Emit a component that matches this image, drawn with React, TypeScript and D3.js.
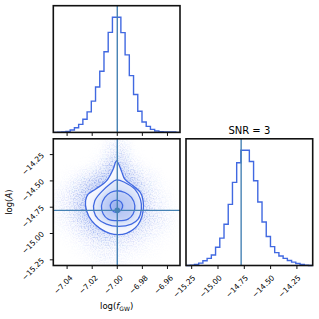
import React from 'react';
import * as d3 from 'd3';

// ---------- data ----------
const fTicks = [-7.04, -7.02, -7.0, -6.98, -6.96];
const aTicks = [-15.25, -15.0, -14.75, -14.5, -14.25];
const fDomain: [number, number] = [-7.051, -6.95];
const aDomain: [number, number] = [-15.304, -14.1];
const truthF = -7.0;
const truthA = -14.78;
const titleText = 'SNR = 3';

// 30-bin step histograms (relative counts)
const histF = [0, 0.5, 1, 3, 7, 14, 24, 39, 61, 93, 135, 182, 240, 298, 343, 343, 297, 231, 169, 113, 63, 31, 18, 9, 4, 2, 1, 1, 1, 0];
const histA = [0, 1, 3, 7, 14, 21, 31, 54, 81, 122, 181, 246, 304, 341, 341, 308, 251, 188, 129, 86, 56, 38, 28, 21, 15, 10, 6, 3, 1, 0];

// credible contours (log f, log A), outer -> inner
const contour4 = [
  [-7.0006, -14.31], [-6.9967, -14.405], [-6.994, -14.484], [-6.9874, -14.547], [-6.9816, -14.61],
  [-6.9794, -14.689], [-6.9794, -14.784], [-6.9816, -14.878], [-6.986, -14.951], [-6.9927, -14.998],
  [-6.9993, -15.011], [-7.006, -14.998], [-7.0139, -14.951], [-7.0205, -14.878], [-7.0245, -14.784],
  [-7.0253, -14.689], [-7.0232, -14.626], [-7.0165, -14.572], [-7.0086, -14.5], [-7.0033, -14.389],
];
const contour3 = [
  [-7.0006, -14.49], [-6.994, -14.515], [-6.986, -14.578], [-6.9816, -14.673], [-6.9808, -14.768],
  [-6.9834, -14.863], [-6.9887, -14.91], [-6.9993, -14.932], [-7.0086, -14.91], [-7.0152, -14.863],
  [-7.0187, -14.784], [-7.0179, -14.689], [-7.0126, -14.604], [-7.006, -14.531],
];
const contour2 = [
  [-7.0006, -14.594], [-6.994, -14.61], [-6.9887, -14.657], [-6.986, -14.736], [-6.9874, -14.815],
  [-6.9914, -14.863], [-6.9993, -14.878], [-7.0073, -14.863], [-7.0112, -14.815], [-7.0126, -14.736],
  [-7.0099, -14.657], [-7.0054, -14.61],
];
const contour1 = [
  [-7.0006, -14.683], [-6.9967, -14.705], [-6.9959, -14.752], [-6.9985, -14.793], [-7.0028, -14.793],
  [-7.0054, -14.752], [-7.0046, -14.705],
];

// sample cloud density, 12x12 grid, rows from high log A to low, cols from low log f to high
const hazeGrid = [
  [0, 0, 0, 0, 0, 0.15, 0.2, 0, 0, 0, 0, 0],
  [0, 0, 0, 0, 0.05, 0.3, 0.35, 0.05, 0, 0, 0, 0],
  [0, 0, 0, 0.05, 0.2, 0.5, 0.5, 0.2, 0.05, 0, 0, 0],
  [0, 0.05, 0.15, 0.3, 0.5, 0.6, 0.6, 0.45, 0.2, 0.1, 0, 0],
  [0.05, 0.15, 0.35, 0.55, 0.7, 0.7, 0.7, 0.6, 0.35, 0.15, 0.05, 0],
  [0.1, 0.25, 0.45, 0.65, 0.8, 0.8, 0.8, 0.7, 0.45, 0.2, 0.1, 0],
  [0.1, 0.25, 0.5, 0.7, 0.8, 0.8, 0.8, 0.7, 0.5, 0.25, 0.12, 0.03],
  [0.08, 0.2, 0.4, 0.6, 0.7, 0.75, 0.7, 0.6, 0.45, 0.3, 0.2, 0.05],
  [0.05, 0.12, 0.25, 0.45, 0.55, 0.6, 0.55, 0.45, 0.3, 0.2, 0.1, 0.02],
  [0, 0.05, 0.12, 0.25, 0.35, 0.35, 0.3, 0.25, 0.15, 0.08, 0.05, 0],
  [0, 0, 0.05, 0.12, 0.2, 0.2, 0.15, 0.12, 0.08, 0.05, 0, 0],
  [0, 0, 0, 0.05, 0.1, 0.12, 0.08, 0.05, 0, 0, 0, 0],
];

// ---------- layout ----------
const S = 126.7;
const colX = [53.3, 186.0];
const rowY = [5.7, 138.8];
const BLUE = '#4169e1';
const TRUTH = '#4682b4';
const FONT = 'DejaVu Sans, sans-serif';
const fmt = (v: number) => (v < 0 ? '\u2212' : '') + Math.abs(v).toFixed(2);

export default function App() {
  const xF = d3.scaleLinear().domain(fDomain).range([colX[0], colX[0] + S]);
  const yA = d3.scaleLinear().domain(aDomain).range([rowY[1] + S, rowY[1]]);
  const xA = d3.scaleLinear().domain(aDomain).range([colX[1], colX[1] + S]);
  const yHf = d3.scaleLinear().domain([0, 1.1 * (d3.max(histF) as number)]).range([rowY[0] + S, rowY[0]]);
  const yHa = d3.scaleLinear().domain([0, 1.1 * (d3.max(histA) as number)]).range([rowY[1] + S, rowY[1]]);

  const stepPath = (h: number[], dom: [number, number], xs: d3.ScaleLinear<number, number>, ys: d3.ScaleLinear<number, number>) => {
    const n = h.length;
    const w = (dom[1] - dom[0]) / n;
    const pts: [number, number][] = [[dom[0], 0]];
    h.forEach((v, i) => pts.push([dom[0] + i * w, v]));
    pts.push([dom[1], h[n - 1]]);
    pts.push([dom[1], 0]);
    return d3.line<[number, number]>().x(d => xs(d[0])).y(d => ys(d[1])).curve(d3.curveStepAfter)(pts) as string;
  };

  const cLine = d3.line<number[]>().x(d => xF(d[0])).y(d => yA(d[1])).curve(d3.curveCatmullRomClosed.alpha(0.5));
  const contours = [contour4, contour3, contour2, contour1];
  const fillOp = [0.06, 0.13, 0.2, 0.25];

  const gx = d3.range(13).map(i => fDomain[0] + (i * (fDomain[1] - fDomain[0])) / 12);
  const gy = d3.range(13).map(i => aDomain[1] - (i * (aDomain[1] - aDomain[0])) / 12);

  const hazeCells = (op: (v: number) => number) =>
    hazeGrid.map((row, r) => row.map((v, c) => v > 0 ? (
      <rect key={`${r}-${c}`} x={xF(gx[c])} y={yA(gy[r])} width={xF(gx[c + 1]) - xF(gx[c])}
        height={yA(gy[r + 1]) - yA(gy[r])} fill={BLUE} opacity={op(v)} />
    ) : null));

  const frame = (x: number, y: number) => (
    <rect x={x} y={y} width={S} height={S} fill="none" stroke="#111" strokeWidth={1.6} />
  );

  const xTicks = (scale: d3.ScaleLinear<number, number>, ticks: number[], bottom: number, labels: boolean, dx: number) =>
    ticks.map(t => (
      <g key={t}>
        <line x1={scale(t)} x2={scale(t)} y1={bottom} y2={bottom + 3.5} stroke="#111" strokeWidth={1} />
        {labels && (
          <text transform={`translate(${scale(t) + dx},${bottom + 9})rotate(-45)`} textAnchor="end" dy="0.72em"
            fontSize={7.5} fontFamily={FONT} fill="#000">{fmt(t)}</text>
        )}
      </g>
    ));

  return (
    <svg width={319} height={319} style={{ position: 'absolute', left: 0, top: 0, background: '#fff' }}>
      <defs>
        <clipPath id="p2d"><rect x={colX[0]} y={rowY[1]} width={S} height={S} /></clipPath>
        <clipPath id="outer"><path d={cLine(contour4) as string} /></clipPath>
        <filter id="haze" x="0" y="0" width="319" height="319" filterUnits="userSpaceOnUse">
          <feGaussianBlur in="SourceGraphic" stdDeviation={4} result="b" />
          <feTurbulence type="fractalNoise" baseFrequency={0.75} numOctaves={1} seed={7} result="n" />
          <feColorMatrix in="n" type="matrix" values="0 0 0 0 0  0 0 0 0 0  0 0 0 0 0  3 0 0 0 -1.3" result="m" />
          <feComposite in="b" in2="m" operator="in" />
        </filter>
        <filter id="smooth" x="0" y="0" width="319" height="319" filterUnits="userSpaceOnUse">
          <feGaussianBlur stdDeviation={4.5} />
        </filter>
        <filter id="soft" x="-20%" y="-20%" width="140%" height="140%"><feGaussianBlur stdDeviation={2.2} /></filter>
      </defs>
      <rect x={0} y={0} width={319} height={319} fill="#fff" />

      {/* top histogram: log f */}
      <path d={stepPath(histF, fDomain, xF, yHf)} fill="none" stroke={BLUE} strokeWidth={1.4} />
      <line x1={xF(truthF)} x2={xF(truthF)} y1={rowY[0]} y2={rowY[0] + S} stroke={TRUTH} strokeWidth={1.4} />
      {frame(colX[0], rowY[0])}
      {xTicks(xF, fTicks, rowY[0] + S, false, 0)}

      {/* 2D panel */}
      <g clipPath="url(#p2d)">
        <g filter="url(#smooth)">{hazeCells(v => 0.6 * v * v)}</g>
        <g filter="url(#haze)">{hazeCells(v => Math.min(1, v * 0.85))}</g>
        <path d={cLine(contour4) as string} fill="#fff" />
        <g clipPath="url(#outer)">
          <g filter="url(#soft)">
            {contours.map((c, i) => (
              <path key={i} d={cLine(c) as string} fill={BLUE} fillOpacity={fillOp[i]} />
            ))}
          </g>
        </g>
        {contours.map((c, i) => (
          <path key={i} d={cLine(c) as string} fill="none" stroke={BLUE} strokeWidth={1.3} />
        ))}
        <line x1={xF(truthF)} x2={xF(truthF)} y1={rowY[1]} y2={rowY[1] + S} stroke={TRUTH} strokeWidth={1.4} />
        <line x1={colX[0]} x2={colX[0] + S} y1={yA(truthA)} y2={yA(truthA)} stroke={TRUTH} strokeWidth={1.4} />
        <circle cx={xF(truthF)} cy={yA(truthA)} r={2.8} fill={TRUTH} />
      </g>
      {frame(colX[0], rowY[1])}
      {xTicks(xF, fTicks, rowY[1] + S, true, 2.3)}
      {aTicks.map(t => (
        <g key={t}>
          <line x1={colX[0]} x2={colX[0] - 3.5} y1={yA(t)} y2={yA(t)} stroke="#111" strokeWidth={1} />
          <text transform={`translate(${colX[0] - 12.5},${yA(t) - 2.6})rotate(-45)`} textAnchor="end" dy="0.72em"
            fontSize={7.5} fontFamily={FONT} fill="#000">{fmt(t)}</text>
        </g>
      ))}

      {/* right histogram: log A */}
      <path d={stepPath(histA, aDomain, xA, yHa)} fill="none" stroke={BLUE} strokeWidth={1.4} />
      <line x1={xA(truthA)} x2={xA(truthA)} y1={rowY[1]} y2={rowY[1] + S} stroke={TRUTH} strokeWidth={1.4} />
      {frame(colX[1], rowY[1])}
      {xTicks(xA, aTicks, rowY[1] + S, true, 0.5)}

      {/* texts */}
      <text x={colX[1] + S / 2} y={133.5} textAnchor="middle" fontSize={10} fontFamily={FONT} fill="#000">{titleText}</text>
      <text transform={`translate(12,${rowY[1] + S / 2})rotate(-90)`} textAnchor="middle" fontSize={8.5} fontFamily={FONT} fill="#000">
        log(<tspan fontStyle="italic">A</tspan>)
      </text>
      <text x={colX[0] + S / 2} y={309} textAnchor="middle" fontSize={8.5} fontFamily={FONT} fill="#000">
        log(<tspan fontStyle="italic">f</tspan><tspan fontSize={6} dy={2}>GW</tspan><tspan dy={-2}>)</tspan>
      </text>
    </svg>
  );
}
